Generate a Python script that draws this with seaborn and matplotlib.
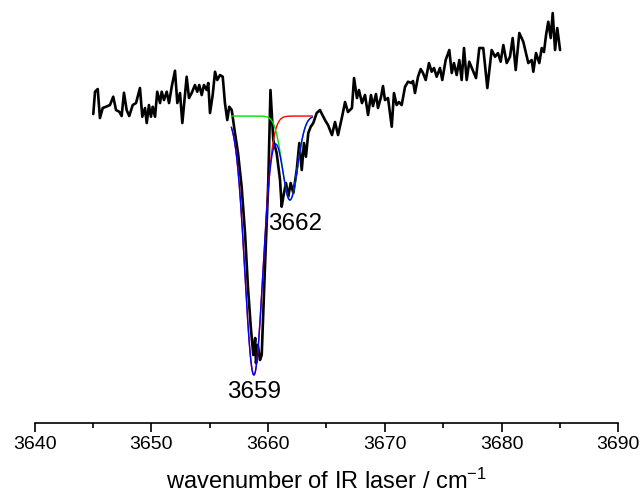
import numpy as np
import pandas as pd
import matplotlib
matplotlib.use("Agg")
import matplotlib.pyplot as plt
import seaborn as sns
from matplotlib.ticker import MultipleLocator

# ---- data: measured depletion spectrum (wavenumber / cm-1, normalised ion signal)
wavenumber = [
    3645.02, 3645.17, 3645.40, 3645.59, 3645.83, 3646.11, 3646.45, 3646.73, 3646.97, 3647.25,
    3647.45, 3647.65, 3647.88, 3648.10, 3648.40, 3648.68, 3649.02, 3649.22, 3649.45, 3649.60,
    3649.79, 3649.96, 3650.11, 3650.31, 3650.50, 3650.74, 3650.88, 3651.08, 3651.31, 3651.51,
    3651.74, 3652.02, 3652.22, 3652.45, 3652.65, 3653.02, 3653.22, 3653.45, 3653.73, 3653.93,
    3654.10, 3654.31, 3654.50, 3654.74, 3654.87, 3655.02, 3655.25, 3655.45, 3655.64, 3655.88,
    3656.11, 3656.30, 3656.50, 3656.67, 3656.88,
    3657.16, 3657.42, 3657.73, 3658.02, 3658.27, 3658.51, 3658.73, 3658.89, 3658.96, 3659.12,
    3659.30, 3659.45, 3659.73, 3660.01, 3660.20, 3660.44, 3660.73, 3661.02, 3661.16, 3661.30,
    3661.53, 3661.73, 3661.93, 3662.16, 3662.45, 3662.67, 3662.88, 3663.07, 3663.24, 3663.44,
    3663.65, 3663.87, 3664.16,
    3664.44, 3664.87, 3665.13, 3665.47, 3665.73, 3665.99, 3666.33, 3666.59, 3666.84, 3667.18,
    3667.36, 3667.61, 3667.78, 3668.04, 3668.30, 3668.56, 3668.81, 3668.98, 3669.24, 3669.41,
    3669.67, 3669.84, 3670.01, 3670.27, 3670.59, 3670.78, 3671.01, 3671.21, 3671.44, 3671.73,
    3671.98, 3672.30, 3672.41, 3672.58, 3672.84, 3673.07, 3673.27, 3673.50, 3673.78, 3674.01,
    3674.21, 3674.44, 3674.72, 3674.92, 3675.21, 3675.52, 3675.73, 3675.92, 3676.15, 3676.38,
    3676.58, 3676.78, 3677.01, 3677.23, 3677.53, 3677.81, 3678.09, 3678.43, 3678.78, 3679.15,
    3679.44, 3679.69, 3679.92, 3680.15, 3680.44, 3680.72, 3680.95, 3681.21, 3681.52, 3681.86,
    3682.29, 3682.58, 3682.72, 3682.95, 3683.23, 3683.44, 3683.63, 3683.81, 3684.00, 3684.21,
    3684.38, 3684.58, 3684.77, 3685.01,
]
signal = [
    1.0065, 1.0792, 1.0879, 0.9935, 1.0261, 1.0303, 1.0358, 1.0629, 1.0195, 1.0140,
    1.0000, 1.0759, 1.0195, 1.0000, 1.0358, 1.0423, 1.0912, 0.9977, 1.0261, 0.9772,
    1.0358, 0.9977, 1.0303, 0.9977, 1.0792, 1.0423, 1.0792, 1.0521, 1.0792, 1.0423,
    1.0954, 1.1476, 1.0423, 1.0749, 0.9772, 1.1280, 1.0586, 1.0749, 1.1010, 1.0792,
    1.1010, 1.0684, 1.1010, 1.0847, 1.1075, 1.0098, 1.0684, 1.1443, 1.1173, 1.1336,
    1.1280, 1.0423, 0.9870, 1.0303, 1.0195,
    0.9446, 0.8795, 0.7697, 0.6189, 0.4430, 0.3137, 0.2215, 0.2769, 0.1954, 0.2540,
    0.2052, 0.2215, 0.5091, 0.7818, 1.0847, 0.9218, 0.8795, 0.7915, 0.7046, 0.7371,
    0.7818, 0.7371, 0.7818, 0.7492, 0.8241, 0.9121, 0.8241, 0.9121, 0.8674, 0.9446,
    0.9651, 0.9772, 1.0098,
    1.0195, 0.9870, 0.9707, 0.9381, 0.9805, 0.9381, 0.9967, 1.0456, 1.0130, 1.0261,
    1.1238, 1.0586, 1.0847, 1.0423, 1.0684, 1.0033, 1.0684, 1.0326, 1.0717, 1.0261,
    1.0619, 1.0977, 1.0521, 1.0586, 0.9651, 1.0749, 1.0358, 1.0456, 1.0358, 1.0954,
    1.1117, 1.1075, 1.1140, 1.0749, 1.1280, 1.1531, 1.1401, 1.1173, 1.1726, 1.1443,
    1.1564, 1.1280, 1.1564, 1.1173, 1.1824, 1.2150, 1.1401, 1.1726, 1.1336, 1.1824,
    1.1173, 1.2215, 1.1173, 1.1769, 1.1498, 1.1238, 1.2215, 1.2215, 1.0912, 1.2150,
    1.1932, 1.2052, 1.1769, 1.2313, 1.1726, 1.1932, 1.2541, 1.1498, 1.2704, 1.2420,
    1.1726, 1.1824, 1.1443, 1.2052, 1.1726, 1.2215, 1.2085, 1.2638, 1.3072, 1.2541,
    1.3355, 1.2150, 1.2866, 1.2150,
]

# ---- Gaussian fit parameters (two components)
fit_range = [3656.85, 3663.80]
fit_baseline = 1.0
fit_centers = [3658.78, 3661.87]
fit_depths = [0.8436, 0.2736]
fit_sigmas = [0.77, 0.65]
peak_labels = ["3659", "3662"]
label_x = [3658.78, 3662.31]
label_y = [0.10, 0.648]

xticks = [3640, 3650, 3660, 3670, 3680, 3690]

# ---- build fit curves
xf = np.linspace(fit_range[0], fit_range[1], 300)
comp = [fit_baseline - d * np.exp(-(xf - c) ** 2 / (2 * s ** 2))
        for c, d, s in zip(fit_centers, fit_depths, fit_sigmas)]
total = fit_baseline - sum(fit_baseline - c for c in comp)

df_data = pd.DataFrame({"x": wavenumber, "y": signal})
df_fit = pd.DataFrame({"x": xf, "c1": comp[0], "c2": comp[1], "sum": total})

sns.set_style("white")
plt.rcParams["font.family"] = ["Liberation Sans", "DejaVu Sans"]
plt.rcParams["text.color"] = "black"
plt.rcParams["axes.labelcolor"] = "black"
plt.rcParams["mathtext.fontset"] = "custom"
plt.rcParams["mathtext.rm"] = "Liberation Sans"
plt.rcParams["mathtext.it"] = "Liberation Sans:italic"
plt.rcParams["mathtext.bf"] = "Liberation Sans:bold"

fig = plt.figure(figsize=(6.41, 4.97), dpi=100)
ax = fig.add_axes([0.0541, 0.1489, 0.9105, 0.8511])

sns.lineplot(data=df_data, x="x", y="y", ax=ax, color="black", lw=1.9,
             estimator=None, sort=False, zorder=3)
sns.lineplot(data=df_fit, x="x", y="c1", ax=ax, color="#ff0000", lw=1.0,
             estimator=None, sort=False, zorder=4)
sns.lineplot(data=df_fit, x="x", y="c2", ax=ax, color="#00e000", lw=1.0,
             estimator=None, sort=False, zorder=4)
sns.lineplot(data=df_fit, x="x", y="sum", ax=ax, color="#0000ff", lw=1.0,
             estimator=None, sort=False, zorder=5)

ax.set_xlim(3640, 3690)
ax.set_ylim(0, 1.378)
ax.set_xticks(xticks)
ax.set_xticklabels([str(t) for t in xticks])
ax.xaxis.set_minor_locator(MultipleLocator(5))
ax.set_yticks([])
ax.set_ylabel("")
ax.set_xlabel("wavenumber of IR laser / cm$^{\\mathrm{-1}}$", fontsize=17,
              labelpad=11, color="black")

for side in ["left", "top", "right"]:
    ax.spines[side].set_visible(False)
ax.spines["bottom"].set_color("black")
ax.spines["bottom"].set_linewidth(1.2)
ax.tick_params(axis="x", which="major", direction="out", length=6.5, width=1.2,
               labelsize=14, colors="black", pad=3, bottom=True)
ax.tick_params(axis="x", which="minor", direction="out", length=3.5, width=1.2,
               bottom=True, colors="black")
ax.patch.set_alpha(0)

for lx, ly, lab in zip(label_x, label_y, peak_labels):
    ax.text(lx, ly, lab, fontsize=17.5, ha="center", va="center", color="black")

fig.savefig("out.png", dpi=100)
